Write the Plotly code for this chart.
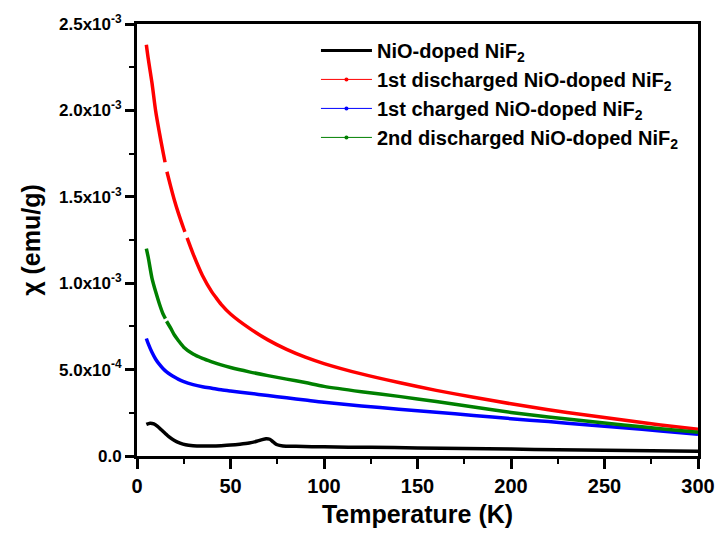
import plotly.graph_objects as go

# Magnetic susceptibility vs temperature (values in emu/g)
# None entries mark short breaks in the measured curves.
temp_ref = [5, 7, 9, 11, 13, 15, 17, 20, 23, 26, 30, 35, 40, 45, 50, 55, 60, 64, 67, 69, 71, 73,
            75, 78, 85, 100, 125, 150, 175, 200, 225, 250, 275, 300]
chi_ref = [0.183e-3, 0.190e-3, 0.186e-3, 0.172e-3, 0.152e-3, 0.132e-3, 0.112e-3, 0.090e-3,
           0.075e-3, 0.065e-3, 0.060e-3, 0.058e-3, 0.058e-3, 0.060e-3, 0.063e-3, 0.068e-3,
           0.075e-3, 0.085e-3, 0.095e-3, 0.100e-3, 0.097e-3, 0.080e-3, 0.065e-3, 0.058e-3,
           0.056e-3, 0.053e-3, 0.050e-3, 0.047e-3, 0.044e-3, 0.040e-3, 0.036e-3, 0.033e-3,
           0.030e-3, 0.028e-3]

temp_dis1 = [5, 6, 8, 10, 12, 14, 15, None, 16, 18, 20, 22, 25, 25.6, None, 26.8, 30, 35, 40, 42,
             45, 50, 60, 70, 80, 90, 100, 120, 140, 160, 180, 200, 220, 240, 260, 280, 300]
chi_dis1 = [2.38e-3, 2.30e-3, 2.16e-3, 1.995e-3, 1.87e-3, 1.755e-3, 1.70e-3, None, 1.645e-3,
            1.56e-3, 1.48e-3, 1.41e-3, 1.315e-3, 1.297e-3, None, 1.262e-3, 1.17e-3, 1.045e-3,
            0.95e-3, 0.92e-3, 0.878e-3, 0.822e-3, 0.74e-3, 0.672e-3, 0.617e-3, 0.572e-3,
            0.535e-3, 0.475e-3, 0.425e-3, 0.38e-3, 0.34e-3, 0.302e-3, 0.268e-3, 0.237e-3,
            0.208e-3, 0.18e-3, 0.155e-3]

temp_chg1 = [5, 6, 8, 10, 12, 14, 16, 18, 20, 22, 25, 30, 35, 40, 45, 50, 60, 70, 80, 90, 100,
             120, 140, 160, 180, 200, 220, 240, 260, 280, 300]
chi_chg1 = [0.68e-3, 0.65e-3, 0.60e-3, 0.56e-3, 0.53e-3, 0.505e-3, 0.485e-3, 0.47e-3, 0.457e-3,
            0.445e-3, 0.43e-3, 0.413e-3, 0.401e-3, 0.392e-3, 0.383e-3, 0.376e-3, 0.363e-3,
            0.350e-3, 0.337e-3, 0.324e-3, 0.311e-3, 0.290e-3, 0.271e-3, 0.253e-3, 0.235e-3,
            0.216e-3, 0.199e-3, 0.181e-3, 0.163e-3, 0.145e-3, 0.126e-3]

temp_dis2 = [5, 6, 8, 10, 12, 14, 15.2, None, 15.8, 18, 20, 22, 25, 30, 35, 40, 45, 50, 60, 70,
             80, 90, 100, 120, 140, 160, 180, 200, 220, 240, 260, 280, 300]
chi_dis2 = [1.20e-3, 1.15e-3, 1.03e-3, 0.95e-3, 0.88e-3, 0.82e-3, 0.795e-3, None, 0.78e-3,
            0.74e-3, 0.70e-3, 0.67e-3, 0.63e-3, 0.59e-3, 0.565e-3, 0.545e-3, 0.527e-3,
            0.512e-3, 0.487e-3, 0.465e-3, 0.445e-3, 0.425e-3, 0.403e-3, 0.372e-3, 0.345e-3,
            0.315e-3, 0.283e-3, 0.252e-3, 0.226e-3, 0.203e-3, 0.18e-3, 0.158e-3, 0.137e-3]

y_tickvals = [0, 0.5e-3, 1.0e-3, 1.5e-3, 2.0e-3, 2.5e-3]
y_ticktext = ["0.0", "5.0x10<sup>-4</sup>", "1.0x10<sup>-3</sup>", "1.5x10<sup>-3</sup>",
              "2.0x10<sup>-3</sup>", "2.5x10<sup>-3</sup>"]
x_tickvals = [0, 50, 100, 150, 200, 250, 300]

names = ["NiO-doped NiF<sub>2</sub>",
         "1st discharged NiO-doped NiF<sub>2</sub>",
         "1st charged NiO-doped NiF<sub>2</sub>",
         "2nd discharged NiO-doped NiF<sub>2</sub>"]
colors = ["#000000", "#ff0000", "#0000ff", "#008000"]

FONT = "Liberation Sans, Arial, sans-serif"

fig = go.Figure()

# Data curves
series = [(temp_ref, chi_ref), (temp_dis1, chi_dis1), (temp_chg1, chi_chg1), (temp_dis2, chi_dis2)]
for (xs, ys), c in zip(series, colors):
    fig.add_trace(go.Scatter(x=xs, y=ys, mode="lines",
                             line=dict(color=c, width=3.5, shape="spline", smoothing=0.8),
                             showlegend=False, connectgaps=False, hoverinfo="skip"))

# Legend entries: thick line for the pristine sample, thin line+symbol for cycled ones
fig.add_trace(go.Scatter(x=[None], y=[None], mode="lines", name=names[0],
                         line=dict(color=colors[0], width=3)))
for n, c in zip(names[1:], colors[1:]):
    fig.add_trace(go.Scatter(x=[None], y=[None], mode="lines+markers", name=n,
                             line=dict(color=c, width=1), marker=dict(color=c, size=4)))

axis_common = dict(showline=True, linecolor="black", linewidth=3, mirror=True,
                   ticks="outside", tickwidth=2.5, tickcolor="black", showgrid=False,
                   zeroline=False)

fig.update_layout(
    width=727, height=537,
    margin=dict(l=137, r=22, t=24, b=77),
    paper_bgcolor="white", plot_bgcolor="white",
    font=dict(family=FONT, color="black", weight="bold"),
    xaxis=dict(range=[0, 300], tickvals=x_tickvals, ticklen=10,
               minor=dict(ticks="outside", dtick=25, ticklen=5, tickwidth=2, tickcolor="black"),
               tickfont=dict(size=20, family=FONT, weight="bold"),
               title=dict(text="Temperature (K)", font=dict(size=25, family=FONT, weight="bold"),
                          standoff=10),
               **axis_common),
    yaxis=dict(range=[0, 2.5e-3], tickvals=y_tickvals, ticktext=y_ticktext, ticklen=9,
               minor=dict(ticks="outside", dtick=0.25e-3, ticklen=5, tickwidth=2, tickcolor="black"),
               tickfont=dict(size=17, family=FONT, weight="bold"),
               title=dict(text="χ (emu/g)", font=dict(size=25, family=FONT, weight="bold"),
                          standoff=12),
               **axis_common),
    legend=dict(x=0.319, y=0.984, xanchor="left", yanchor="top", bgcolor="rgba(0,0,0,0)",
                font=dict(size=20, family=FONT, weight="bold"), itemwidth=51,
                tracegroupgap=0),
)

fig.write_html("out.html")
